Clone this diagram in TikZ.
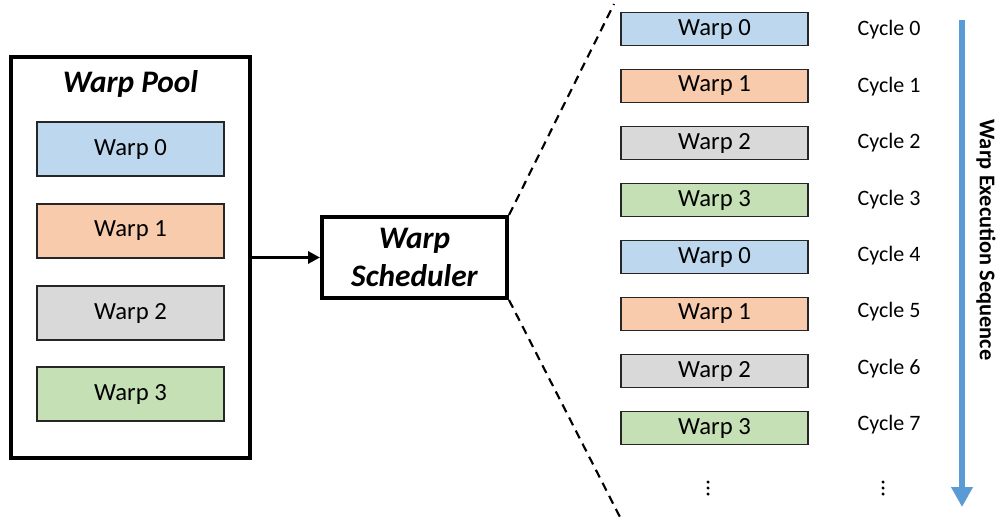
\documentclass[tikz,border=0pt]{standalone}
\usepackage{fontspec}
\setmainfont{Carlito}
\usetikzlibrary{arrows.meta}

\definecolor{wblue}{HTML}{BDD7EE}
\definecolor{worange}{HTML}{F8CBAD}
\definecolor{wgray}{HTML}{D9D9D9}
\definecolor{wgreen}{HTML}{C5E0B4}
\definecolor{seqblue}{HTML}{5B9BD5}

\tikzset{
  poolwarp/.style={draw=black!85, line width=0.9pt, minimum width=140.25pt, minimum height=40.5pt,
    inner sep=0pt, font=\fontsize{18.5}{20}\selectfont},
  seqwarp/.style={draw=black!85, line width=0.9pt, minimum width=140.25pt, minimum height=24.75pt,
    inner sep=0pt, font=\fontsize{18.5}{20}\selectfont},
  cyclelabel/.style={inner sep=0pt, font=\fontsize{16.5}{18}\selectfont},
  heavybox/.style={draw=black, line width=3pt, inner sep=0pt},
  zoomline/.style={line width=1.6pt, dash pattern=on 6.5pt off 4.5pt},
}

\begin{document}
\begin{tikzpicture}[x=0.75pt, y=-0.75pt]
\useasboundingbox (0,0) rectangle (998,521);

% warp pool
\node[heavybox, minimum width=179.25pt, minimum height=300.75pt] (pool) at (130.5,257.5) {};
\node[font=\fontsize{23.5}{26}\selectfont\bfseries\itshape] (pooltitle) at (130.5,84) {Warp Pool};
\node[poolwarp, fill=wblue]   (p0) at (130.5,149) {Warp 0};
\node[poolwarp, fill=worange] (p1) at (130.5,231) {Warp 1};
\node[poolwarp, fill=wgray]   (p2) at (130.5,313) {Warp 2};
\node[poolwarp, fill=wgreen]  (p3) at (130.5,394) {Warp 3};

% scheduler
\node[heavybox, minimum width=138.75pt, minimum height=60.75pt, align=center,
      font=\fontsize{23.5}{28}\selectfont\bfseries\itshape] (sched) at (414.5,257.5) {Warp\\Scheduler};
\draw[line width=2.6pt, -{Triangle[length=9pt,width=9pt]}] (pool.east) -- (sched.west);

% zoom lines
\coordinate (ztop) at (614,4);
\coordinate (zbot) at (622,521);
\draw[zoomline] (sched.north east) -- (ztop);
\draw[zoomline] (sched.south east) -- (zbot);

% execution sequence
\foreach \i/\w/\c [count=\k from 0] in {0/0/wblue,1/1/worange,2/2/wgray,3/3/wgreen,4/0/wblue,5/1/worange,6/2/wgray,7/3/wgreen}{
  \node[seqwarp, fill=\c] (s\i) at (714.5,{29+57*\k}) {Warp \w};
  \node[cyclelabel] (c\i) at (889,{30+56.4*\k}) {Cycle \i};
}

% ellipsis dots
\foreach \xx/\nm in {708/da,883/db}{
  \foreach \yy [count=\j] in {482,488,494}{
    \fill (\xx,\yy) circle (1.3pt);
  }
}

% direction arrow
\coordinate (atop) at (962,20);
\coordinate (abot) at (962,507);
\draw[seqblue, line width=4.5pt, -{Triangle[length=15pt,width=15.5pt]}] (atop) -- (abot);
\node[rotate=-90, font=\fontsize{16.8}{19}\selectfont\bfseries] (seqlabel) at (986,240) {Warp Execution Sequence};

\end{tikzpicture}
\end{document}
